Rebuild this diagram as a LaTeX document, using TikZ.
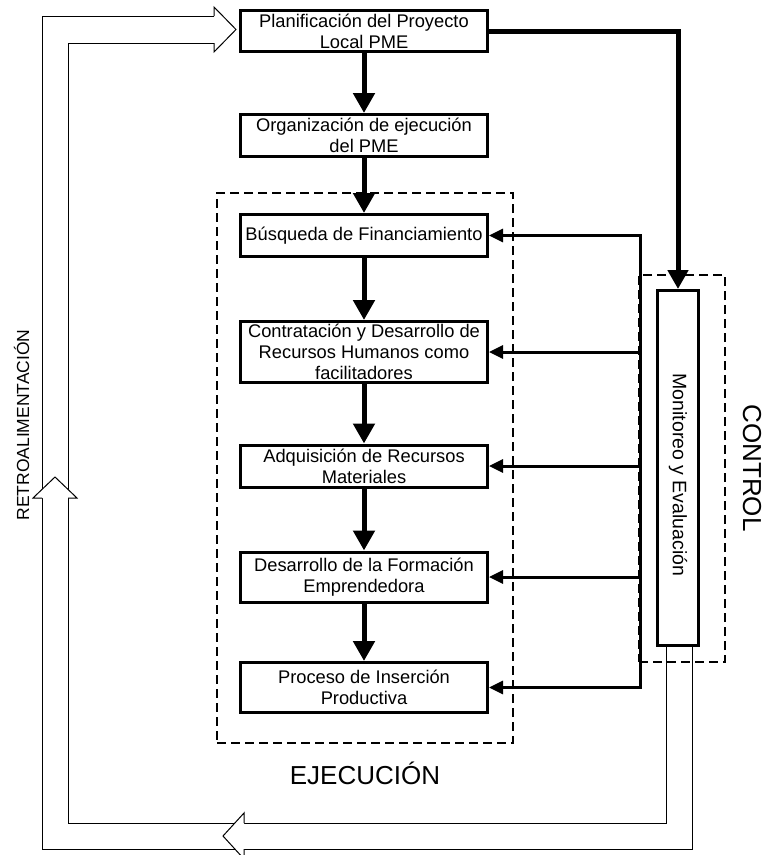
\documentclass[tikz,border=0pt]{standalone}
\usepackage{fontspec}
\setmainfont{Liberation Sans}
\usetikzlibrary{arrows.meta}
\begin{document}
\begin{tikzpicture}[x=1pt,y=-1pt,
  stage/.style={draw, line width=3pt, minimum width=247pt, inner sep=0pt,
    align=center, font=\fontsize{18.3}{21}\selectfont},
  flow/.style={line width=5pt, -{Triangle[width=21pt,length=20pt]}},
  fb/.style={line width=3pt, -{Triangle[width=13pt,length=14pt]}},
  zone/.style={draw, line width=1.6pt, dash pattern=on 9pt off 5pt, inner sep=0pt},
  retro/.style={line width=1pt, line join=miter},
]
\useasboundingbox (0,0) rectangle (767,855);

% dashed groupings
\node[zone, minimum width=296pt, minimum height=550pt] (ejec) at (365,468) {};
\node[zone, minimum width=86pt, minimum height=387pt] (ctrlzone) at (682,468.5) {};

% process stages
\node[stage, minimum height=41pt] (b1) at (364,31) {Planificación del Proyecto\\Local PME};
\node[stage, minimum height=42pt] (b2) at (364,135.5) {Organización de ejecución\\del PME};
\node[stage, minimum height=42pt] (b3) at (364,235.5) {Búsqueda de Financiamiento};
\node[stage, minimum height=61pt] (b4) at (364,352) {Contratación y Desarrollo de\\Recursos Humanos como\\facilitadores};
\node[stage, minimum height=42pt] (b5) at (364,466) {Adquisición de Recursos\\Materiales};
\node[stage, minimum height=50pt] (b6) at (364,577) {Desarrollo de la Formación\\Emprendedora};
\node[stage, minimum height=50pt] (b7) at (364,687.5) {Proceso de Inserción\\Productiva};

% monitoring column
\node[draw, line width=3pt, minimum width=41pt, minimum height=355pt, inner sep=0pt] (mon) at (678,468) {};
\node[rotate=-90, font=\fontsize{19.5}{22}\selectfont] (monlbl) at ([yshift=-7pt]mon.center) {Monitoreo y Evaluación};

% main flow
\draw[flow] (b1) -- (b2);
\draw[flow] (b2) -- (b3);
\draw[flow] (b3) -- (b4);
\draw[flow] (b4) -- (b5);
\draw[flow] (b5) -- (b6);
\draw[flow] (b6) -- (b7);
\draw[line width=5pt, -{Triangle[width=20pt,length=19pt]}] (b1.east) -| (mon.north);

% control feedback bus
\coordinate (bus) at (640,0);
\draw[line width=3pt, line cap=rect] (b3.east -| bus) -- (b7.east -| bus);
\draw[fb] (b3.east -| bus) -- (b3.east);
\draw[fb] (b4.east -| bus) -- (b4.east);
\draw[fb] (b5.east -| bus) -- (b5.east);
\draw[fb] (b6.east -| bus) -- (b6.east);
\draw[fb] (b7.east -| bus) -- (b7.east);

% feedback loop (hollow double-line arrow)
\coordinate (ri) at (666,647);
\coordinate (ro) at (692,647);
\coordinate (ti) at (214,43);
\coordinate (to) at (214,16);
\draw[retro] (ro) -- (692,849) -- (42,849) -- (42,16) -- (to);
\draw[retro] (ri) -- (666,823) -- (68,823) -- (68,43) -- (ti);
\filldraw[retro, fill=white] (ti) -- (214,52) -- (236,29.5) -- (214,7) -- (to);
\filldraw[retro, fill=white] (68,498) -- (77,498) -- (55,477) -- (33,498) -- (42,498);
\filldraw[retro, fill=white] (244,823) -- (244,813) -- (223,836) -- (244,859) -- (244,849);

% labels
\node[rotate=90, font=\fontsize{17.5}{20}\selectfont] (retrolbl) at (21.5,425) {RETROALIMENTACIÓN};
\node[rotate=-90, font=\fontsize{26}{30}\selectfont] (ctllbl) at (752,468) {CONTROL};
\node[font=\fontsize{26}{30}\selectfont] (ejlbl) at (365,773) {EJECUCIÓN};
\end{tikzpicture}
\end{document}
